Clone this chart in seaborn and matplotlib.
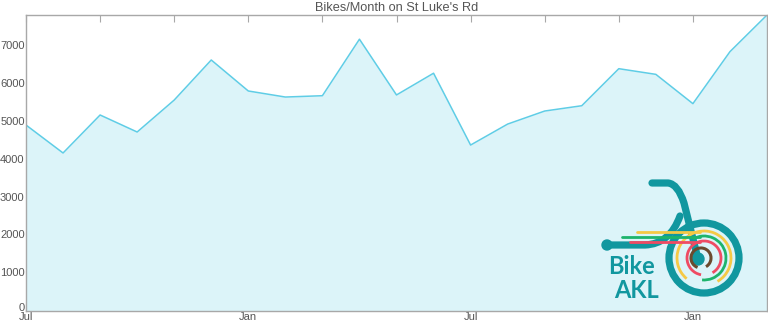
import numpy as np
import pandas as pd
import matplotlib
matplotlib.use("Agg")
import matplotlib.pyplot as plt
import matplotlib.transforms as mtransforms
import seaborn as sns
from matplotlib.patches import Arc, Circle
from matplotlib.path import Path
from matplotlib.patches import PathPatch

months = ["Jul", "Aug", "Sep", "Oct", "Nov", "Dec", "Jan", "Feb", "Mar", "Apr", "May", "Jun",
          "Jul", "Aug", "Sep", "Oct", "Nov", "Dec", "Jan", "Feb", "Mar"]
bikes = [4920, 4180, 5185, 4735, 5580, 6640, 5820, 5660, 5695, 7190, 5715, 6290,
         4390, 4945, 5290, 5430, 6410, 6260, 5485, 6860, 7830]
tick_pos = [0, 2, 4, 6, 8, 10, 12, 14, 16, 18, 20]
tick_labels = ["Jul", "", "", "Jan", "", "", "Jul", "", "", "Jan", ""]
y_ticks = [0, 1000, 2000, 3000, 4000, 5000, 6000, 7000]

df = pd.DataFrame({"idx": np.arange(len(bikes)), "month": months, "bikes": bikes})

sns.set_style("white")
plt.rcParams["font.family"] = ["Liberation Sans", "DejaVu Sans"]

fig = plt.figure(figsize=(7.68, 3.25), dpi=100)
ax = fig.add_axes([26/768, 14/325, 741/768, 296/325])

line_c = "#5fcde6"
fill_c = "#dcf4f9"
ax.fill_between(df["idx"], df["bikes"], 0, color=fill_c, lw=0)
sns.lineplot(data=df, x="idx", y="bikes", ax=ax, color=line_c, lw=1.1)

ax.set_xlim(0, len(bikes) - 1)
ax.set_ylim(0, max(bikes))
ax.set_xticks(tick_pos)
ax.set_xticklabels(tick_labels)
ax.set_yticks(y_ticks)
ax.set_yticklabels([str(v) for v in y_ticks])
ax.set_xlabel("")
ax.set_ylabel("")
gray = "#555555"
spine_c = "#a8a8a8"
for s in ax.spines.values():
    s.set_visible(True)
    s.set_color(spine_c)
    s.set_linewidth(1.0)
ax.tick_params(axis="x", direction="in", length=5, width=0.8, color=spine_c,
               top=True, bottom=True, labelsize=8, labelcolor=gray, pad=1)
ax.tick_params(axis="y", direction="in", length=0, labelsize=8, labelcolor=gray, pad=1)
for lbl in ax.get_yticklabels():
    lbl.set_verticalalignment("center")
# nudge the "0" label up slightly so it sits above "Jul" as in the reference
zero_lbl = ax.get_yticklabels()[0]
zero_lbl.set_transform(zero_lbl.get_transform() +
                       mtransforms.ScaledTranslation(0, 3/100, fig.dpi_scale_trans))
ax.set_title("Bikes/Month on St Luke's Rd", fontsize=9.2, color=gray, pad=3)

# Bike AKL logo overlay in pixel coordinates
ov = fig.add_axes([0, 0, 1, 1])
ov.set_xlim(0, 768)
ov.set_ylim(325, 0)
ov.axis("off")
ov.patch.set_alpha(0)
teal = "#11979f"
cx, cy, r = 704, 258, 35
ov.add_patch(Circle((cx, cy), r, fill=False, ec=teal, lw=5.2))
ov.add_patch(Circle((698, 259), 6, color=teal))
# handlebar / fork
verts = [(652, 183), (668, 183), (678, 184), (684, 203), (698, 259)]
codes = [Path.MOVETO, Path.LINETO, Path.CURVE3, Path.CURVE3, Path.LINETO]
ov.add_patch(PathPatch(Path(verts, codes), fill=False, ec=teal, lw=5.2, capstyle="round"))
verts2 = [(607, 245), (645, 245), (670, 244), (680, 216)]
codes2 = [Path.MOVETO, Path.LINETO, Path.CURVE3, Path.CURVE3]
ov.add_patch(PathPatch(Path(verts2, codes2), fill=False, ec=teal, lw=5.2, capstyle="round"))
ov.add_patch(Circle((607, 245), 5, color=teal))
# coloured lines and arcs
cols = [("#f5c945", 232, 637), ("#1db46c", 237, 622), ("#ef4b63", 242, 630)]
for c, y, x0 in cols:
    ov.plot([x0, cx - 4], [y, y], color=c, lw=2, solid_capstyle="round")
ov.add_patch(Arc((cx, cy), 54, 54, theta1=-230, theta2=60, color="#f5c945", lw=2))
ov.add_patch(Arc((cx, cy), 44, 44, theta1=-120, theta2=95, color="#1db46c", lw=2))
ov.add_patch(Arc((cx, cy), 34, 34, theta1=-260, theta2=60, color="#ef4b63", lw=2))
ov.add_patch(Arc((cx - 3, cy), 20, 20, theta1=-250, theta2=60, color="#6b4a2e", lw=2.2))
ov.text(631, 267, "Bike", color=teal, fontsize=17, fontweight="bold",
        ha="center", va="center", family=["Lato", "DejaVu Sans"])
ov.text(637, 290, "AKL", color=teal, fontsize=17, fontweight="bold",
        ha="center", va="center", family=["Lato", "DejaVu Sans"])

fig.savefig("out.png", dpi=100)
